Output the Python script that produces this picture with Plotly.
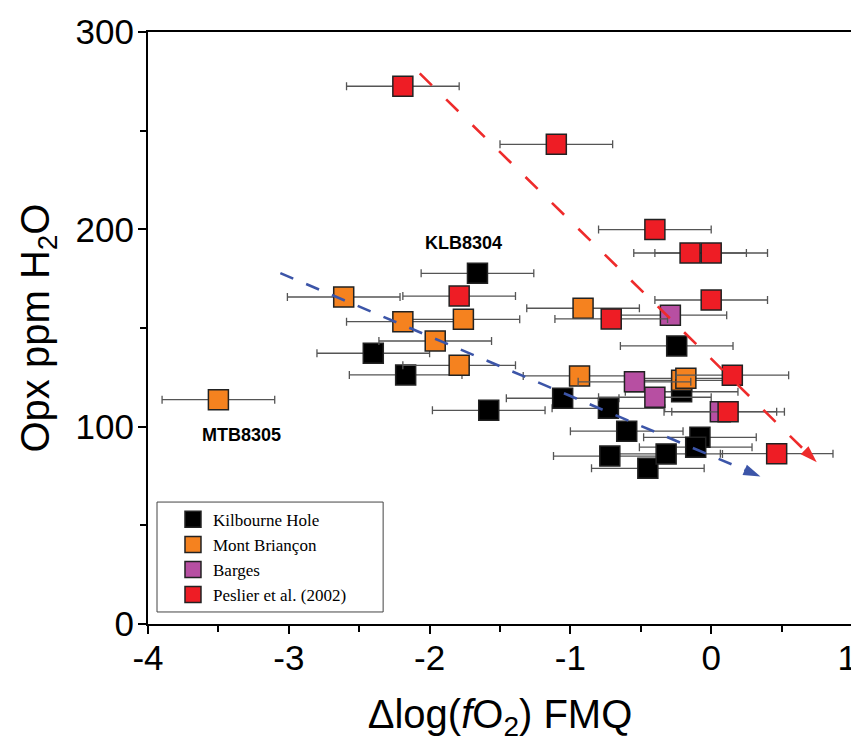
import plotly.graph_objects as go

# ---------------- data ----------------
kh_x = [-1.66, -2.40, -2.17, -1.58, -1.055, -0.73, -0.60, -0.72, -0.45, -0.32, -0.08, -0.11, -0.21, -0.245]
kh_y = [177.7, 137.2, 126.2, 108.3, 114.4, 109.3, 97.7, 85.1, 78.9, 86.2, 94.6, 89.6, 117.7, 140.9]

mb_x = [-3.50, -2.61, -2.19, -1.76, -1.96, -1.79, -0.91, -0.935, -0.21, -0.18]
mb_y = [113.7, 165.7, 153.2, 154.4, 143.4, 131.1, 160.0, 125.7, 123.5, 124.5]

bg_x = [-0.29, -0.545, -0.40, 0.065]
bg_y = [156.5, 122.7, 114.9, 107.6]

pe_x = [-2.19, -1.10, -0.40, -0.15, 0.0, 0.0, -1.79, -0.71, 0.15, 0.12, 0.465]
pe_y = [272.5, 243.1, 199.9, 188.0, 188.0, 164.2, 166.2, 154.6, 126.1, 107.5, 86.3]

fo2_err = 0.4

red_trend_x = [-2.07, 0.75]
red_trend_y = [279.0, 82.0]
blue_trend_x = [-3.06, 0.35]
blue_trend_y = [177.8, 74.7]

labels = ["KLB8304", "MTB8305"]
label_x = [-1.76, -3.335]
label_y = [193.1, 95.8]

x_tickvals = [-4, -3, -2, -1, 0, 1]
x_ticktext = ["-4", "-3", "-2", "-1", "0", "1\u00a0"]
y_tickvals = [0, 100, 200, 300]
y_ticktext = ["0", "100", "200", "300"]

series = [
    ("Kilbourne Hole", kh_x, kh_y, "#000000"),
    ("Mont Briançon", mb_x, mb_y, "#F5821F"),
    ("Barges", bg_x, bg_y, "#B74FA2"),
    ("Peslier et al. (2002)", pe_x, pe_y, "#EE1D25"),
]

fig = go.Figure()

for name, xs, ys, col in series:
    fig.add_trace(go.Scatter(
        x=xs, y=ys, mode="markers", name=name,
        marker=dict(symbol="square", size=20, color=col,
                    line=dict(color="#222222", width=1.5)),
        error_x=dict(type="constant", value=fo2_err, color="#555555",
                     thickness=1.3, width=4),
    ))

for tx, ty, col, dash in [(red_trend_x, red_trend_y, "#EE2B2B", "17px,20px"),
                          (blue_trend_x, blue_trend_y, "#3C55A8", "14px,14px")]:
    fig.add_trace(go.Scatter(
        x=tx, y=ty, mode="lines+markers", showlegend=False,
        line=dict(color=col, width=2.6, dash=dash),
        marker=dict(symbol=["circle", "arrow"], size=[0, 18], color=col,
                    opacity=1, angleref="previous", line=dict(width=0)),
        hoverinfo="skip",
    ))

for t, lx, ly in zip(labels, label_x, label_y):
    fig.add_annotation(x=lx, y=ly, text=f"<b>{t}</b>", showarrow=False,
                       font=dict(family="Liberation Sans, Arial", size=18, color="black"))

# legend frame
fig.add_shape(type="rect", xref="paper", yref="paper",
              x0=0.0128, x1=0.334, y0=0.0203, y1=0.206,
              line=dict(color="#444444", width=1), fillcolor="white", layer="below")

fig.update_layout(
    width=851, height=741,
    margin=dict(l=140, r=7, t=24, b=125),
    paper_bgcolor="white", plot_bgcolor="white",
    template="none",
    font=dict(family="Liberation Sans, Arial", color="black"),
    showlegend=True,
    legend=dict(x=0.0355, y=0.2065, xanchor="left", yanchor="top",
                bgcolor="rgba(0,0,0,0)", borderwidth=0,
                font=dict(family="Liberation Serif, Times New Roman", size=17, color="black"),
                tracegroupgap=0),
    xaxis=dict(range=[-4, 1], tickvals=x_tickvals, ticktext=x_ticktext,
               showgrid=False, zeroline=False,
               showline=True, linecolor="black", linewidth=2, mirror=True,
               ticks="outside", ticklen=8, tickwidth=2, tickcolor="black",
               tickfont=dict(size=35), automargin=False, ticklabelstandoff=-6,
               ticklabeloverflow="allow",
               minor=dict(ticks="outside", ticklen=6, tickwidth=1.5, tickcolor="black", dtick=0.5),
               title=dict(text="Δlog(<i>f</i>O<sub>2</sub>) FMQ", font=dict(size=40), standoff=24)),
    yaxis=dict(range=[0, 300], tickvals=y_tickvals, ticktext=y_ticktext,
               showgrid=False, zeroline=False,
               showline=True, linecolor="black", linewidth=2, mirror=True,
               ticks="outside", ticklen=8, tickwidth=2, tickcolor="black",
               tickfont=dict(size=35), automargin=False, ticklabelstandoff=-3,
               ticklabeloverflow="allow",
               minor=dict(ticks="outside", ticklen=6, tickwidth=1.5, tickcolor="black", dtick=50),
               title=dict(text="Opx ppm H<sub>2</sub>O", font=dict(size=40), standoff=14)),
)

fig.write_html("out.html")
